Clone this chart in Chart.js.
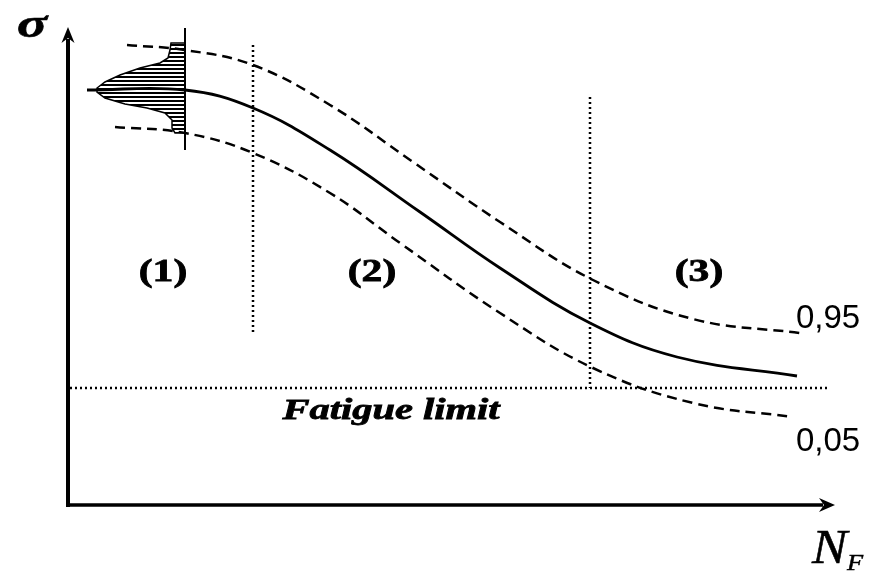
<!DOCTYPE html>
<html>
<head>
<meta charset="utf-8">
<script src="https://cdn.jsdelivr.net/npm/chart.js@4/dist/chart.umd.min.js"></script>
<style>
html,body{margin:0;padding:0;background:#fff;}
#wrap{width:872px;height:574px;}
</style>
</head>
<body>
<div id="wrap"><canvas id="c" width="872" height="574"></canvas></div>
<script>
// Abstract units: x = log(N_F) (arbitrary), y = stress sigma (arbitrary)
const medianCurve = [[1.9,41.5],[11.7,41.5],[18.5,39.7],[26.2,35.5],[35.2,29.3],[43.2,23.7],[52.2,18.2],[60.9,14.8],[72.9,12.9]];
const upper95 = [[5.9,46.0],[11.7,45.5],[18.5,44.0],[26.2,40.0],[34.5,34.3],[43.2,28.3],[52.5,22.5],[62.5,18.6],[73.2,17.2]];
const lower05 = [[4.7,37.8],[11.7,37.2],[18.5,35.2],[26.2,31.2],[33.2,26.2],[43.2,19.2],[52.5,13.7],[62.5,10.2],[72.5,8.8]];
const distribution = [[11.7,46.2],[10.3,46.2],[10.2,45.5],[10.0,44.7],[9.2,44.2],[7.2,43.7],[5.2,43.0],[3.7,42.3],[2.9,41.7],[2.9,41.3],[3.7,40.7],[5.7,40.1],[7.9,39.7],[9.7,39.2],[10.4,38.5],[10.4,37.7],[10.7,37.2],[11.7,37.2],[11.7,46.2]];
const distributionAxis = [[11.7,35.5],[11.7,47.7]];
const regionBounds = [18.5, 52.2];
const regionBoundTops = [46.0, 40.8];
const regionBoundBottoms = [17.3, 11.7];
const fatigueLimit = 11.7;
const fatigueRange = [0.2, 76.0];
const regionLabels = ['(1)','(2)','(3)'];
const curveLabels = ['0,95','0,05'];
const limitLabel = 'Fatigue limit';

const pts = a => a.map(p => ({x:p[0], y:p[1]}));

// hatch pattern
const pc = document.createElement('canvas');
pc.width = 8; pc.height = 4;
const pctx = pc.getContext('2d');
pctx.fillStyle = '#fff'; pctx.fillRect(0,0,8,4);
pctx.fillStyle = '#000'; pctx.fillRect(0,0,8,2);
const hatch = document.getElementById('c').getContext('2d').createPattern(pc,'repeat');

const datasets = [
  {data: pts(medianCurve), borderColor:'#000', borderWidth:2.8, tension:0.4, pointRadius:0, fill:false},
  {data: pts(upper95), borderColor:'#000', borderWidth:2.5, borderDash:[10,6], tension:0.4, pointRadius:0, fill:false},
  {data: pts(lower05), borderColor:'#000', borderWidth:2.5, borderDash:[10,6], tension:0.4, pointRadius:0, fill:false},
  {data: pts(distributionAxis), borderColor:'#000', borderWidth:2, pointRadius:0, fill:false},
  {data: [{x:regionBounds[0],y:regionBoundTops[0]},{x:regionBounds[0],y:regionBoundBottoms[0]}], borderColor:'#000', borderWidth:2.5, borderDash:[2,3], pointRadius:0, fill:false},
  {data: [{x:regionBounds[1],y:regionBoundTops[1]},{x:regionBounds[1],y:regionBoundBottoms[1]}], borderColor:'#000', borderWidth:2.5, borderDash:[2,3], pointRadius:0, fill:false},
  {data: [{x:fatigueRange[0],y:fatigueLimit},{x:fatigueRange[1],y:fatigueLimit}], borderColor:'#000', borderWidth:2.5, borderDash:[2,3], pointRadius:0, fill:false},
  {data: pts(distribution), borderColor:'#000', borderWidth:1.5, tension:0, pointRadius:0, fill:'shape', backgroundColor:hatch}
];

function stretchedText(ctx, txt, x, y, font, sx, stroke){
  ctx.save();
  ctx.font = font;
  ctx.translate(x, y);
  ctx.scale(sx, 1);
  ctx.fillText(txt, 0, 0);
  if (stroke) { ctx.lineWidth = stroke; ctx.strokeText(txt, 0, 0); }
  ctx.restore();
}

const decor = {
  id:'decor',
  afterDraw(chart){
    const ctx = chart.ctx, xs = chart.scales.x, ys = chart.scales.y;
    const X = v => xs.getPixelForValue(v), Y = v => ys.getPixelForValue(v);
    const x0 = X(0), y0 = Y(0), xEnd = X(xs.max), yEnd = Y(ys.max);
    ctx.save();
    ctx.fillStyle = '#000'; ctx.strokeStyle = '#000';
    // y axis
    ctx.lineWidth = 4;
    ctx.beginPath(); ctx.moveTo(x0, y0+2); ctx.lineTo(x0, yEnd+12); ctx.stroke();
    ctx.beginPath(); ctx.moveTo(x0, yEnd); ctx.lineTo(x0-6.5, yEnd+16); ctx.lineTo(x0, yEnd+11); ctx.lineTo(x0+6.5, yEnd+16); ctx.closePath(); ctx.fill();
    // x axis
    ctx.lineWidth = 3.5;
    ctx.beginPath(); ctx.moveTo(x0-2, y0); ctx.lineTo(xEnd-12, y0); ctx.stroke();
    ctx.beginPath(); ctx.moveTo(xEnd, y0); ctx.lineTo(xEnd-16, y0-7); ctx.lineTo(xEnd-11, y0); ctx.lineTo(xEnd-16, y0+7); ctx.closePath(); ctx.fill();
    // texts
    ctx.textAlign = 'center'; ctx.textBaseline = 'middle';
    const regionX = [9.5, 30.4, 63.1];
    regionLabels.forEach((t,i) => stretchedText(ctx, t, X(regionX[i]), Y(23.2), 'bold 32px "Liberation Serif"', 1.3, 0.8));
    stretchedText(ctx, limitLabel, X(32.3), Y(9.4), 'bold italic 30px "Liberation Serif"', 1.35, 0.8);
    ctx.font = '33px "Liberation Sans"';
    ctx.fillText(curveLabels[0], X(76.0), Y(18.6));
    ctx.fillText(curveLabels[1], X(76.0), Y(6.3));
    stretchedText(ctx, 'σ', X(-3.6), Y(47.8), 'bold italic 40px "Liberation Serif"', 1.4, 0.6);
    ctx.textAlign = 'left'; ctx.textBaseline = 'alphabetic';
    stretchedText(ctx, 'N', X(74.4), Y(-5.8), 'italic 48px "Liberation Serif"', 1.1, 0.5);
    stretchedText(ctx, 'F', X(77.9), Y(-6.5), 'italic 24px "Liberation Serif"', 1.1, 0.5);
    ctx.restore();
  }
};

new Chart(document.getElementById('c'), {
  type:'line',
  data:{datasets},
  options:{
    responsive:false,
    animation:false,
    events:[],
    layout:{padding:{left:68, right:37, top:27, bottom:69}},
    plugins:{legend:{display:false}, tooltip:{enabled:false}},
    scales:{
      x:{type:'linear', min:0, max:76.7, display:false},
      y:{type:'linear', min:0, max:47.8, display:false}
    }
  },
  plugins:[decor]
});
</script>
</body>
</html>
